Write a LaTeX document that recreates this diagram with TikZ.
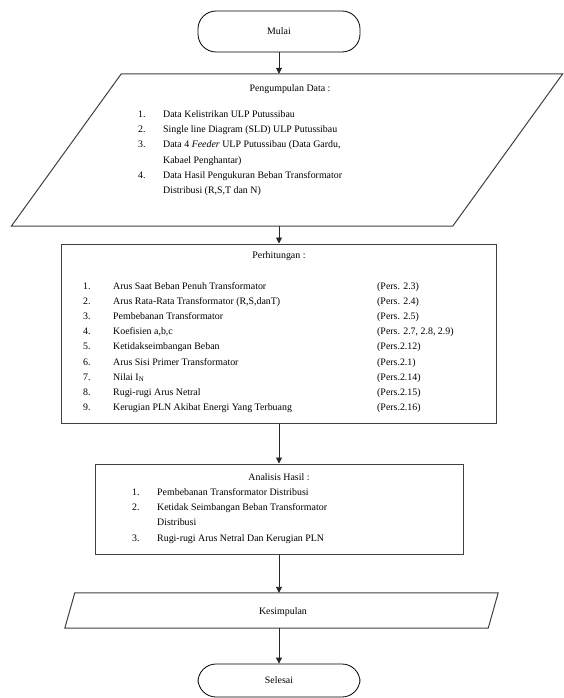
\documentclass[tikz,border=0pt]{standalone}
\usepackage{fontspec}
\setmainfont{Liberation Serif}
\usetikzlibrary{arrows.meta, positioning, calc}

\newcommand{\chartfont}{\fontsize{9.9}{15.2}\selectfont}

\begin{document}
\begin{tikzpicture}[
    x=1pt, y=-1pt,
    terminal/.style={
        rectangle,
        draw=black,
        line width=0.8pt,
        rounded corners=18pt,
        minimum width=162pt,
        font=\chartfont,
        align=center
    },
    process/.style={
        rectangle,
        draw=black!75,
        line width=1pt,
        inner sep=0pt
    },
    iobox/.style={rectangle, inner sep=0pt},
    slanted/.style={draw=black!75, line width=1pt},
    txt/.style={inner sep=0pt, font=\chartfont},
    edge/.style={-{Triangle[length=6pt,width=6pt]}, line width=0.9pt, draw=black!85}
]
    \useasboundingbox (0,0) rectangle (563,698);

    \node[terminal, minimum height=41pt] (mulai) at (279,31.5) {Mulai};

    % input data
    \node[iobox, minimum width=441pt, minimum height=152pt] (data) at (287,150) {};
    \draw[slanted] ($(data.north west)+(55,0)$) -- ($(data.north east)+(55,0)$)
        -- ($(data.south east)+(-55,0)$) -- ($(data.south west)+(-55,0)$) -- cycle;
    \node[txt, anchor=base] (datatitle) at (290,91.5) {Pengumpulan Data :};
    \node[txt, anchor=base west] (datalist) at (138,117.5) {%
        \begin{tabular}[t]{@{}p{25pt}@{}l@{}}
        1. & Data Kelistrikan ULP Putussibau\\
        2. & Single line Diagram (SLD) ULP Putussibau\\
        3. & Data 4 \textit{Feeder} ULP Putussibau (Data Gardu,\\
           & Kabael Penghantar)\\
        4. & Data Hasil Pengukuran Beban Transformator\\
           & Distribusi (R,S,T dan N)
        \end{tabular}};

    % perhitungan
    \node[process, minimum width=435pt, minimum height=179pt] (hitung) at (279,333.5) {};
    \node[txt, anchor=base] (hitungtitle) at (279,258.5) {Perhitungan :};
    \node[txt, anchor=base west] (hitunglist) at (83,289) {%
        \begin{tabular}[t]{@{}p{30pt}@{}p{264pt}@{}l@{}}
        1. & Arus Saat Beban Penuh Transformator & (Pers. 2.3)\\
        2. & Arus Rata-Rata Transformator (R,S,danT) & (Pers. 2.4)\\
        3. & Pembebanan Transformator & (Pers. 2.5)\\
        4. & Koefisien a,b,c & (Pers. 2.7, 2.8, 2.9)\\
        5. & Ketidakseimbangan Beban & (Pers.2.12)\\
        6. & Arus Sisi Primer Transformator & (Pers.2.1)\\
        7. & Nilai I\textsubscript{N} & (Pers.2.14)\\
        8. & Rugi-rugi Arus Netral & (Pers.2.15)\\
        9. & Kerugian PLN Akibat Energi Yang Terbuang & (Pers.2.16)
        \end{tabular}};

    % analisis
    \node[process, minimum width=368pt, minimum height=90pt] (analisis) at (279,509) {};
    \node[txt, anchor=base] (analisistitle) at (279,480.5) {Analisis Hasil :};
    \node[txt, anchor=base west] (analisislist) at (132,495.5) {%
        \begin{tabular}[t]{@{}p{25pt}@{}l@{}}
        1. & Pembebanan Transformator Distribusi\\
        2. & Ketidak Seimbangan Beban Transformator\\
           & Distribusi\\
        3. & Rugi-rugi Arus Netral Dan Kerugian PLN
        \end{tabular}};

    % kesimpulan
    \node[iobox, minimum width=423pt, minimum height=35pt] (simpul) at (281.5,610.5) {};
    \draw[slanted] ($(simpul.north west)+(5,0)$) -- ($(simpul.north east)+(5,0)$)
        -- ($(simpul.south east)+(-5,0)$) -- ($(simpul.south west)+(-5,0)$) -- cycle;
    \node[txt, anchor=base] (simpultext) at (283,614) {Kesimpulan};

    \node[terminal, minimum height=33pt] (selesai) at (279,680.5) {Selesai};

    \draw[edge] (mulai.south) -- (mulai.south |- data.north);
    \draw[edge] (hitung.north |- data.south) -- (hitung.north);
    \draw[edge] (hitung.south) -- (analisis.north);
    \draw[edge] (analisis.south) -- (analisis.south |- simpul.north);
    \draw[edge] (selesai.north |- simpul.south) -- (selesai.north);
\end{tikzpicture}
\end{document}
